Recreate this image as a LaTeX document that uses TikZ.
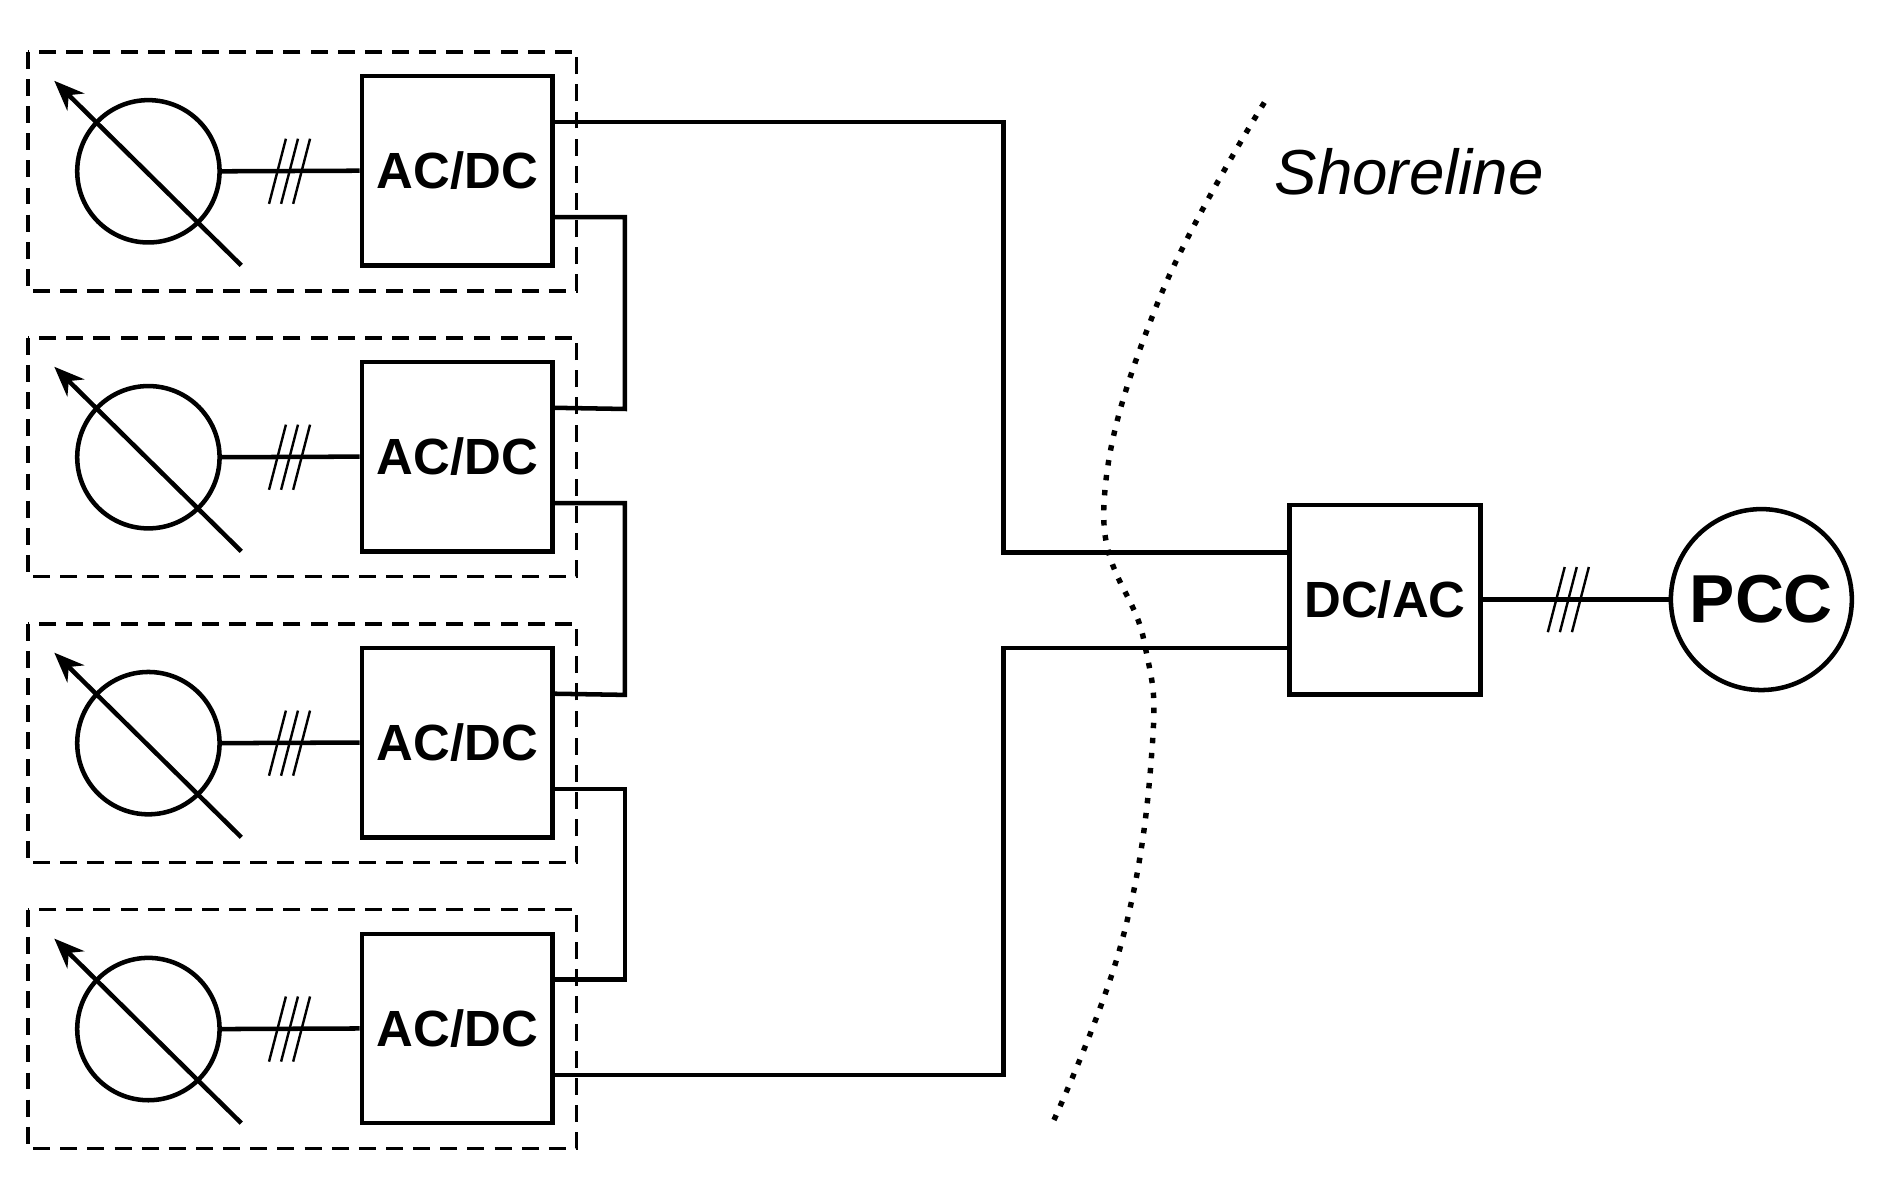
\documentclass[tikz,border=0pt]{standalone}
\usepackage{fontspec}
\setmainfont{Liberation Sans}
\usetikzlibrary{arrows.meta}
\begin{document}
\begin{tikzpicture}[x=0.2mm,y=-0.2mm,line width=0.75mm,
  conv/.style={draw,rectangle,minimum width=31.6mm,minimum height=31.4mm,inner sep=0pt,font=\fontsize{24}{24}\selectfont\bfseries},
  gen/.style={draw,circle,minimum size=23.6mm,inner sep=0pt},
  grp/.style={draw,dashed,dash pattern=on 2.8mm off 1.7mm,line width=0.6mm},
  wire/.style={line width=0.75mm}]
\useasboundingbox (0,0) rectangle (1560,993);
\foreach \i/\dy in {1/0,2/237,3/474,4/711}{
  \draw[grp] (23,43+\dy) rectangle (478,241+\dy);
  \node[gen] (g\i) at (123,142+\dy) {};
  \draw[-{Stealth[length=5mm,width=4mm]}] (200,220+\dy) -- (45,67+\dy);
  \node[conv] (c\i) at (379,141.5+\dy) {AC/DC};
  \draw[wire] (g\i.east) -- (c\i.west);
  \foreach \o in {-10,0,10}
    \draw[line width=0.4mm] (240+\o-7,142+\dy+27) -- (240+\o+7,142+\dy-27);
  \coordinate (t\i) at (458,101+\dy);
  \coordinate (b\i) at (458,180+\dy);
}
\node[conv] (inv) at (1148,497) {DC/AC};
\node[gen,minimum size=30mm,font=\fontsize{32}{32}\selectfont\bfseries] (pcc) at (1460,497) {PCC};
\draw[wire] (inv.east) -- (pcc.west);
\foreach \o in {-10,0,10}
  \draw[line width=0.4mm] (1300+\o-7,497+27) -- (1300+\o+7,497-27);
\draw[wire] (t1) -| (832,458) -- (inv.west |- 0,458);
\draw[wire] (b4) -| (832,537) -- (inv.west |- 0,537);
\draw[wire] (b1) -| (518,339) -- (t2);
\draw[wire] (b2) -| (518,576) -- (t3);
\draw[wire] (b3) -| (518,812) -- (t4);
\draw[line width=0.9mm,dash pattern=on 0.9mm off 1.6mm] plot[smooth,tension=0.7] coordinates {(1048,85) (960,250) (915,420) (948,530) (955,620) (930,780) (872,932)};
\node[font=\fontsize{30}{30}\selectfont\itshape] (sh) at (1168,142) {Shoreline};
\end{tikzpicture}
\end{document}
